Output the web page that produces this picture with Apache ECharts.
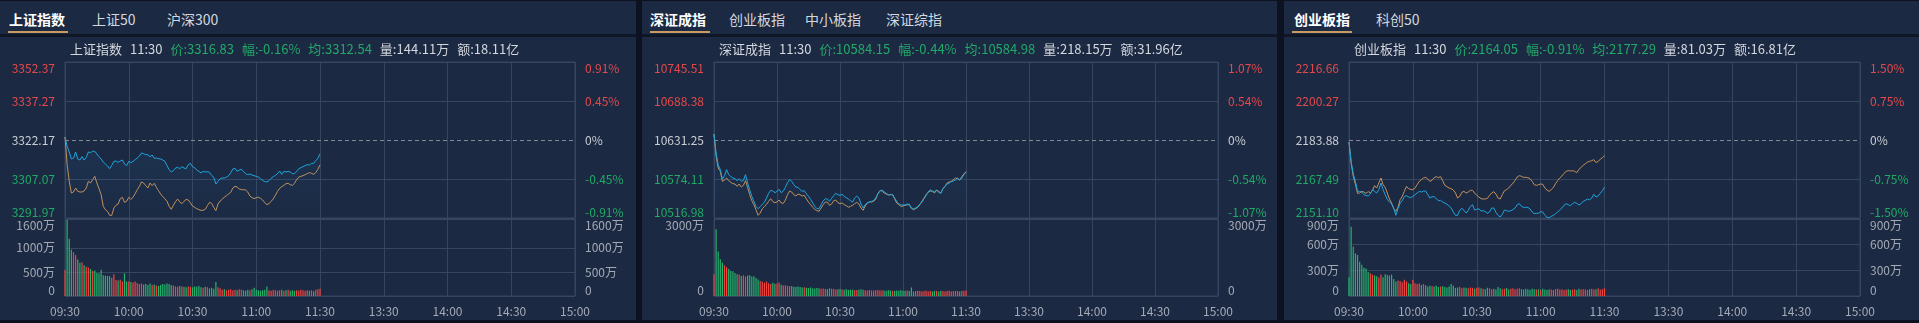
<!DOCTYPE html>
<html><head><meta charset="utf-8">
<script src="https://cdn.jsdelivr.net/npm/echarts@6/dist/echarts.min.js"></script>
<style>
html,body{margin:0;padding:0;background:#0c1220;width:1919px;height:323px;overflow:hidden;font-family:"Noto Sans CJK SC","Noto Sans",sans-serif;}
.panel{position:absolute;top:1px;height:319px;background:#1c2942;}
.head{position:absolute;left:0;top:0;right:0;height:33px;border-bottom:3px solid #0f1625;}
.tab{position:absolute;top:8px;font-size:14px;line-height:20px;color:#d3d8df;white-space:nowrap;}
.tab.on{color:#ffffff;font-weight:bold;}
.ul{position:absolute;top:30px;height:2px;background:#c99a5f;}
.chart{position:absolute;left:0;right:0;top:36px;height:283px;}
</style></head>
<body>
<script>
// ---------- data ----------
const SH_TABS = ['上证指数', '上证50', '沪深300'];
const SZ_TABS = ['深证成指', '创业板指', '中小板指', '深证综指'];
const CY_TABS = ['创业板指', '科创50'];

const SH_INFO = ['上证指数', '11:30', '价:3316.83', '幅:-0.16%', '均:3312.54', '量:144.11万', '额:18.11亿'];
const SZ_INFO = ['深证成指', '11:30', '价:10584.15', '幅:-0.44%', '均:10584.98', '量:218.15万', '额:31.96亿'];
const CY_INFO = ['创业板指', '11:30', '价:2164.05', '幅:-0.91%', '均:2177.29', '量:81.03万', '额:16.81亿'];

const SH_TICKS = [3291.97, 3307.07, 3322.17, 3337.27, 3352.37];
const SH_PCT = ['-0.91%', '-0.45%', '0%', '0.45%', '0.91%'];
const SZ_TICKS = [10516.98, 10574.11, 10631.25, 10688.38, 10745.51];
const SZ_PCT = ['-1.07%', '-0.54%', '0%', '0.54%', '1.07%'];
const CY_TICKS = [2151.10, 2167.49, 2183.88, 2200.27, 2216.66];
const CY_PCT = ['-1.50%', '-0.75%', '0%', '0.75%', '1.50%'];

const SH_VOL_TICKS = [0, 500, 1000, 1600];
const SZ_VOL_TICKS = [0, 3000];
const CY_VOL_TICKS = [0, 300, 600, 900];

const SH_PRICE = [3323.34,3319.72,3317.53,3314.82,3315.20,3317.53,3314.82,3314.43,3315.72,3314.43,
3315.46,3317.53,3317.27,3317.79,3317.79,3316.75,3315.72,3314.82,3313.66,3312.88,
3312.11,3311.07,3312.37,3313.91,3314.04,3313.53,3314.04,3314.43,3312.88,3312.24,
3313.91,3313.40,3313.91,3314.56,3315.20,3315.98,3317.14,3316.88,3316.50,3316.50,
3315.72,3316.37,3315.08,3315.20,3314.95,3314.82,3314.43,3313.91,3312.24,3310.69,
3309.78,3310.30,3311.33,3311.59,3311.07,3311.85,3311.33,3311.07,3312.62,3313.14,
3311.85,3311.46,3310.56,3310.04,3309.40,3310.04,3309.78,3309.91,3309.66,3308.49,
3307.72,3305.14,3306.17,3307.20,3307.46,3307.46,3307.85,3308.36,3309.53,3310.95,
3311.20,3310.04,3310.56,3310.82,3310.04,3309.14,3308.75,3309.01,3308.62,3308.36,
3308.11,3307.85,3307.20,3306.56,3306.04,3305.91,3306.43,3307.33,3307.98,3308.49,
3309.14,3310.17,3308.88,3310.04,3309.78,3310.04,3309.78,3309.14,3309.14,3310.04,
3311.07,3311.46,3311.85,3312.24,3312.62,3312.49,3313.14,3313.14,3314.17,3315.08,
3316.83];
const SH_AVG = [3323.34,3312.62,3306.17,3301.65,3302.04,3303.59,3302.30,3302.04,3302.04,3302.43,
3303.59,3306.17,3305.53,3306.82,3308.11,3305.53,3303.33,3301.01,3296.49,3295.20,
3294.55,3293.01,3293.01,3295.85,3296.88,3297.39,3299.46,3299.98,3298.04,3298.43,
3299.98,3299.20,3299.98,3301.40,3302.94,3304.23,3305.91,3305.53,3304.49,3303.59,
3305.53,3304.49,3305.40,3303.85,3302.56,3301.27,3300.23,3299.46,3298.43,3296.49,
3295.33,3296.88,3298.30,3299.33,3298.17,3297.52,3298.43,3299.20,3298.94,3297.91,
3296.62,3296.10,3295.59,3295.20,3294.94,3294.94,3295.33,3296.75,3298.04,3297.65,
3296.10,3294.81,3297.39,3298.56,3299.20,3300.10,3300.62,3301.27,3301.91,3303.59,
3304.23,3303.98,3303.20,3302.94,3302.94,3302.81,3302.04,3300.49,3299.85,3299.46,
3299.85,3299.98,3299.59,3298.94,3297.91,3297.14,3297.52,3298.43,3299.33,3300.75,
3302.30,3303.46,3304.11,3304.62,3305.27,3305.40,3304.88,3304.62,3305.40,3306.82,
3307.85,3308.11,3308.36,3308.75,3309.14,3309.53,3309.27,3308.88,3309.53,3310.82,
3312.54];
const SH_VOL = [540,1580,1190,960,910,850,760,690,700,640,
610,590,560,520,530,480,470,545,430,420,
420,410,380,450,330,320,340,300,470,300,
300,290,280,300,270,250,260,240,250,230,
260,230,240,220,210,230,250,240,260,250,
230,220,200,190,210,200,190,180,200,190,
180,200,190,210,180,170,190,180,160,170,
150,290,180,160,130,140,120,130,140,120,
130,120,140,130,120,110,130,120,140,170,
130,120,110,120,130,200,120,110,130,120,
110,120,130,110,120,130,110,120,110,120,
110,130,120,110,120,110,120,100,130,140,
150];

const SZ_PRICE = [10640.04,10612.20,10595.11,10587.78,10574.11,10578.99,10587.78,10580.46,10577.53,10575.57,
10574.60,10571.67,10574.60,10570.69,10572.15,10580.46,10568.25,10558.48,10548.71,10541.39,
10534.06,10530.64,10533.57,10536.99,10539.92,10546.27,10553.11,10557.50,10556.53,10554.08,
10556.04,10558.97,10554.08,10556.53,10561.90,10568.74,10573.13,10570.69,10565.81,10562.39,
10561.90,10558.48,10556.04,10557.01,10552.62,10548.71,10544.32,10538.94,10534.06,10530.64,
10530.64,10536.50,10541.87,10545.29,10544.81,10541.39,10545.78,10549.69,10553.11,10551.15,
10550.18,10551.64,10548.71,10546.76,10544.81,10542.36,10540.41,10546.27,10549.20,10546.27,
10537.48,10531.62,10536.50,10539.43,10540.41,10541.39,10542.36,10546.27,10552.13,10556.53,
10557.99,10555.55,10553.11,10551.15,10551.15,10551.64,10546.27,10541.39,10537.97,10536.01,
10536.01,10536.01,10537.48,10536.99,10531.62,10530.64,10531.62,10533.57,10537.48,10539.92,
10545.29,10549.69,10555.06,10558.48,10556.53,10555.55,10557.50,10554.57,10553.11,10559.94,
10563.36,10566.78,10568.25,10570.20,10571.18,10572.64,10575.57,10572.64,10575.57,10580.46,
10584.15];
const SZ_AVG = [10640.04,10607.32,10590.22,10585.34,10570.69,10572.64,10575.57,10571.67,10569.22,10567.27,
10566.78,10563.36,10566.78,10562.39,10564.83,10571.67,10561.90,10551.15,10542.36,10536.50,
10529.18,10520.87,10524.29,10530.64,10533.57,10536.99,10541.39,10545.29,10540.90,10539.43,
10540.41,10543.34,10538.94,10538.46,10543.34,10551.15,10556.53,10555.06,10551.15,10549.20,
10552.13,10551.15,10549.20,10550.18,10544.81,10540.41,10536.50,10532.60,10529.67,10527.71,
10526.73,10531.62,10536.50,10540.41,10540.41,10535.53,10537.48,10542.36,10543.34,10539.43,
10537.97,10538.94,10536.50,10535.04,10532.60,10534.06,10535.53,10537.97,10539.92,10537.48,
10531.62,10528.20,10534.55,10538.94,10540.41,10540.41,10541.39,10544.32,10552.13,10557.01,
10557.01,10553.60,10552.13,10550.67,10551.15,10551.15,10545.29,10538.94,10536.50,10534.06,
10534.55,10535.53,10536.50,10536.50,10531.13,10529.18,10530.64,10532.60,10536.50,10541.39,
10546.27,10551.15,10554.57,10556.53,10556.04,10553.60,10557.99,10556.04,10553.60,10559.94,
10563.36,10568.25,10569.71,10570.69,10573.13,10575.57,10574.60,10572.64,10577.53,10581.43,
10584.98];
const SZ_VOL = [850,2600,1730,1430,1300,1190,1120,1050,980,960,
900,850,840,780,810,760,800,810,760,770,
700,640,580,560,520,560,500,470,520,480,
490,530,440,410,420,400,380,390,360,350,
370,350,330,340,320,310,330,300,290,310,
300,280,290,270,260,300,280,270,250,260,
270,250,240,260,230,250,240,220,230,240,
260,240,220,210,230,220,210,220,230,210,
220,210,200,220,210,200,190,210,200,230,
190,200,210,190,330,180,190,200,190,180,
190,200,180,190,180,200,190,180,200,190,
180,190,200,180,190,200,190,180,190,200,
210];

const CY_PRICE = [2183.04,2174.91,2169.59,2166.51,2162.30,2162.30,2162.02,2160.90,2160.62,2160.34,
2161.18,2163.00,2162.30,2161.60,2163.00,2165.81,2163.00,2160.90,2158.94,2157.82,
2156.98,2155.30,2152.22,2155.02,2157.26,2158.38,2160.20,2160.48,2159.92,2159.64,
2160.20,2160.90,2161.60,2162.30,2162.02,2162.44,2162.44,2160.90,2159.50,2160.06,
2160.06,2159.22,2158.38,2158.52,2157.82,2157.40,2156.84,2156.14,2155.30,2153.62,
2152.22,2152.22,2154.32,2155.16,2154.32,2153.20,2154.32,2156.00,2156.70,2154.46,
2154.74,2155.02,2154.04,2154.18,2153.76,2153.06,2153.62,2155.30,2155.30,2153.48,
2152.22,2151.52,2152.64,2154.46,2154.18,2153.90,2154.18,2154.60,2155.30,2156.70,
2157.12,2156.00,2155.58,2155.58,2155.58,2154.88,2153.62,2152.92,2153.06,2153.06,
2153.76,2153.62,2152.22,2151.38,2151.24,2151.80,2152.22,2152.92,2153.62,2154.46,
2155.30,2156.42,2157.12,2156.70,2156.28,2157.12,2157.68,2157.26,2156.56,2157.12,
2158.10,2158.52,2159.08,2158.80,2159.50,2161.04,2159.92,2160.34,2161.46,2162.58,
2164.05];
const CY_AVG = [2183.04,2174.21,2168.61,2165.38,2161.46,2161.60,2162.30,2162.02,2161.46,2162.16,
2161.74,2162.58,2164.68,2163.70,2165.81,2167.91,2165.10,2163.98,2161.60,2159.08,
2157.40,2155.02,2153.90,2155.58,2158.80,2160.20,2162.30,2164.40,2163.42,2163.14,
2163.00,2163.70,2165.10,2166.51,2167.21,2167.91,2168.19,2167.49,2166.51,2166.93,
2168.05,2168.47,2168.05,2168.47,2166.79,2164.82,2164.26,2163.70,2163.42,2162.86,
2161.60,2159.50,2160.20,2161.88,2162.30,2161.60,2162.02,2162.72,2162.72,2161.60,
2160.62,2159.92,2159.22,2159.08,2159.08,2159.36,2160.62,2161.60,2162.16,2161.18,
2159.50,2159.08,2160.90,2162.58,2163.00,2163.70,2164.82,2165.67,2166.93,2168.33,
2168.89,2168.61,2168.19,2168.19,2168.05,2167.63,2166.51,2165.10,2164.82,2165.10,
2165.38,2165.24,2163.70,2162.86,2162.30,2163.00,2163.98,2165.52,2166.79,2167.91,
2168.75,2169.87,2170.71,2170.99,2170.85,2170.99,2170.71,2170.15,2171.55,2172.39,
2173.23,2173.93,2174.63,2174.91,2175.19,2175.61,2174.35,2174.91,2175.75,2176.45,
2177.29];
const CY_VOL = [220,810,575,500,480,400,365,330,320,280,
265,250,240,230,215,250,220,255,245,240,
250,200,170,180,175,160,190,170,150,140,
190,150,140,145,130,140,125,110,120,115,
110,120,105,110,115,105,100,110,140,120,
95,100,105,90,100,95,90,100,95,85,
95,100,90,85,80,95,90,80,85,75,
105,90,80,85,95,75,85,90,80,85,
90,80,75,85,80,70,85,80,75,80,
70,85,75,70,80,75,70,80,85,75,
80,70,75,80,70,75,80,70,85,75,
80,75,70,80,85,75,80,90,75,80,
90];

// trading minutes: 09:30-11:30, 13:01-15:00
const CATS = [];
(function () {
  const pad = n => (n < 10 ? '0' : '') + n;
  for (let m = 9 * 60 + 30; m <= 11 * 60 + 30; m++) CATS.push(pad(Math.floor(m / 60)) + ':' + pad(m % 60));
  for (let m = 13 * 60 + 1; m <= 15 * 60; m++) CATS.push(pad(Math.floor(m / 60)) + ':' + pad(m % 60));
})();

// ---------- style ----------
const FONT = '"Noto Sans CJK SC","Noto Sans",sans-serif';
const RED = '#e5484c', GREEN = '#1faa66', GREY = '#c9cdd4';
const BAR_RED = '#f0443f', BAR_GREEN = '#25b46c';
const BLUE = '#1ea6e0', ORANGE = '#c6915a';
const GRIDC = '#364560';
const LABELC = '#a3aab6';

const PANELS = [
  { left: 0, width: 636, gl: 65, gr: 61, tabs: SH_TABS, tabX: [9, 92, 167], ul: [8, 60],
    info: SH_INFO, ticks: SH_TICKS, pct: SH_PCT, vt: SH_VOL_TICKS, price: SH_PRICE, avg: SH_AVG, vol: SH_VOL },
  { left: 642, width: 635, gl: 72, gr: 59, tabs: SZ_TABS, tabX: [8, 87, 163, 244], ul: [8, 60],
    info: SZ_INFO, ticks: SZ_TICKS, pct: SZ_PCT, vt: SZ_VOL_TICKS, price: SZ_PRICE, avg: SZ_AVG, vol: SZ_VOL },
  { left: 1284, width: 635, gl: 65, gr: 59, tabs: CY_TABS, tabX: [10, 92], ul: [8, 60],
    info: CY_INFO, ticks: CY_TICKS, pct: CY_PCT, vt: CY_VOL_TICKS, price: CY_PRICE, avg: CY_AVG, vol: CY_VOL }
];

function buildPanel(cfg) {
  const panel = document.createElement('div');
  panel.className = 'panel';
  panel.style.left = cfg.left + 'px';
  panel.style.width = cfg.width + 'px';
  const head = document.createElement('div');
  head.className = 'head';
  cfg.tabs.forEach((t, i) => {
    const s = document.createElement('div');
    s.className = 'tab' + (i === 0 ? ' on' : '');
    s.style.left = cfg.tabX[i] + 'px';
    s.textContent = t;
    head.appendChild(s);
  });
  const ul = document.createElement('div');
  ul.className = 'ul';
  ul.style.left = cfg.ul[0] + 'px';
  ul.style.width = cfg.ul[1] + 'px';
  head.appendChild(ul);
  panel.appendChild(head);
  const el = document.createElement('div');
  el.className = 'chart';
  panel.appendChild(el);
  document.body.appendChild(panel);

  const T = cfg.ticks, prev = T[2];
  const colorOf = v => (v > prev + 1e-6 ? RED : (v < prev - 1e-6 ? GREEN : GREY));
  const idxOf = v => T.findIndex(t => Math.abs(t - v) < 1e-6);
  const vt = cfg.vt;
  const vmax = vt[vt.length - 1];
  const volData = cfg.vol.map((v, i) => {
    const ref = i === 0 ? prev : cfg.price[i - 1];
    return { value: v, itemStyle: { color: cfg.price[i] > ref ? BAR_RED : BAR_GREEN } };
  });
  const info = cfg.info;
  const rs = (c, last) => ({ color: c, fontSize: 13, fontWeight: 'normal', fontFamily: FONT, padding: last ? 0 : [0, 8, 0, 0] });

  const chart = echarts.init(el, null, { renderer: 'canvas' });
  chart.setOption({
    animation: false,
    textStyle: { fontFamily: FONT },
    title: {
      left: cfg.gl, top: 1,
      text: `{a|${info[0]}}{a|${info[1]}}{g|${info[2]}}{g|${info[3]}}{g|${info[4]}}{a|${info[5]}}{b|${info[6]}}`,
      textStyle: { fontWeight: 'normal', fontSize: 13, rich: { a: rs('#d3d7de'), g: rs('#22a868'), b: rs('#d3d7de', true) } }
    },
    grid: [
      { left: cfg.gl, right: cfg.gr, top: 25, height: 156, show: true, borderColor: GRIDC, borderWidth: 1, backgroundColor: 'transparent' },
      { left: cfg.gl, right: cfg.gr, top: 182, height: 77, show: true, borderColor: GRIDC, borderWidth: 1, backgroundColor: 'transparent' }
    ],
    xAxis: [
      { gridIndex: 0, type: 'category', data: CATS, boundaryGap: false,
        axisLine: { show: false }, axisTick: { show: false }, axisLabel: { show: false },
        splitLine: { show: true, interval: 29, lineStyle: { color: GRIDC } } },
      { gridIndex: 1, type: 'category', data: CATS, boundaryGap: false,
        axisLine: { show: false }, axisTick: { show: false },
        axisLabel: { show: true, interval: 29, color: LABELC, fontSize: 12, margin: 9 },
        splitLine: { show: true, interval: 29, lineStyle: { color: GRIDC } } }
    ],
    yAxis: [
      { gridIndex: 0, type: 'value', min: T[0], max: T[4], position: 'left',
        axisLine: { show: false }, axisTick: { show: false, customValues: T },
        splitLine: { show: true, lineStyle: { color: [GRIDC, GRIDC, 'rgba(0,0,0,0)', GRIDC, GRIDC] } },
        axisLabel: { customValues: T, margin: 10, fontSize: 12,
          formatter: v => T[idxOf(v)].toFixed(2),
          color: v => colorOf(parseFloat(v)),
          verticalAlignMinLabel: 'bottom', verticalAlignMaxLabel: 'top' } },
      { gridIndex: 0, type: 'value', min: T[0], max: T[4], position: 'right',
        axisLine: { show: false }, axisTick: { show: false, customValues: T }, splitLine: { show: false },
        axisLabel: { customValues: T, margin: 10, fontSize: 12,
          formatter: v => cfg.pct[idxOf(v)],
          color: v => colorOf(parseFloat(v)),
          verticalAlignMinLabel: 'bottom', verticalAlignMaxLabel: 'top' } },
      { gridIndex: 1, type: 'value', min: 0, max: vmax, position: 'left',
        axisLine: { show: false }, axisTick: { show: false, customValues: vt },
        splitLine: { show: true, lineStyle: { color: GRIDC } },
        axisLabel: { customValues: vt, margin: 10, fontSize: 12, color: LABELC,
          formatter: v => (v === 0 ? '0' : v + '万'),
          verticalAlignMinLabel: 'bottom', verticalAlignMaxLabel: 'top' } },
      { gridIndex: 1, type: 'value', min: 0, max: vmax, position: 'right',
        axisLine: { show: false }, axisTick: { show: false, customValues: vt }, splitLine: { show: false },
        axisLabel: { customValues: vt, margin: 10, fontSize: 12, color: LABELC,
          formatter: v => (v === 0 ? '0' : v + '万'),
          verticalAlignMinLabel: 'bottom', verticalAlignMaxLabel: 'top' } }
    ],
    series: [
      { type: 'line', xAxisIndex: 0, yAxisIndex: 0, data: cfg.price, symbol: 'none', showSymbol: false,
        lineStyle: { color: BLUE, width: 1 }, itemStyle: { color: BLUE }, z: 4,
        areaStyle: { origin: 'start', color: new echarts.graphic.LinearGradient(0, 0, 0, 1, [
          { offset: 0, color: 'rgba(40,150,220,0.14)' }, { offset: 1, color: 'rgba(40,150,220,0.02)' }]) },
        markLine: { silent: true, symbol: 'none', label: { show: false },
          lineStyle: { color: '#858b96', type: [4, 3], width: 1 }, data: [{ yAxis: prev }] } },
      { type: 'line', xAxisIndex: 0, yAxisIndex: 0, data: cfg.avg, symbol: 'none', showSymbol: false,
        lineStyle: { color: ORANGE, width: 1 }, itemStyle: { color: ORANGE }, z: 3 },
      { type: 'bar', xAxisIndex: 1, yAxisIndex: 2, data: volData, barWidth: 1.2 }
    ]
  });
}
PANELS.forEach(buildPanel);
</script>
</body></html>
